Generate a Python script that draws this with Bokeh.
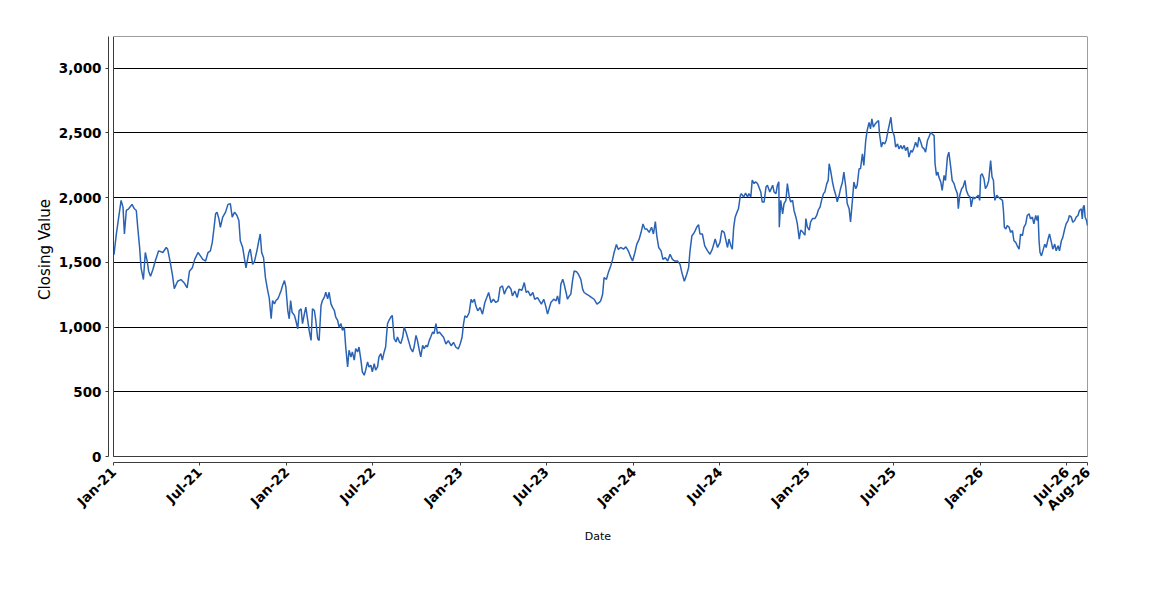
import math
import pandas as pd
from bokeh.plotting import figure
from bokeh.models import (Range1d, FixedTicker, DatetimeTickFormatter,
                          NumeralTickFormatter, BoxAnnotation, ColumnDataSource)
from bokeh.embed import file_html
from bokeh.resources import INLINE

# ---------------- data ----------------
start_date = "2021-01-01"
end_offset_days = 2051  # last plotted day (mid-Aug 2026)

day_offsets = [
    1, 6, 11, 16, 20, 23, 27, 32, 39, 44, 48, 51, 55, 58, 63, 67, 71, 74, 78, 83,
    88, 95, 104, 111, 114, 119, 124, 128, 135, 142, 149, 155, 160, 166, 171, 178, 183, 188, 194, 199,
    204, 208, 211, 215, 218, 222, 225, 230, 236, 241, 246, 250, 255, 260, 264, 267, 272, 276, 279, 285,
    288, 293, 297, 302, 306, 309, 312, 316, 320, 325, 328,
    332, 335, 339, 342, 346, 349, 353, 356, 360, 363, 367, 370, 373, 376, 381, 384, 388, 391, 395, 398,
    402, 405, 409, 412, 416, 419, 423, 426, 430, 433, 437, 440, 444, 447, 451, 454, 458, 461, 465, 468,
    472, 475, 479, 482, 486, 489, 493, 496, 500, 503, 507, 510, 514, 517, 521, 524, 528, 531, 535, 538,
    542, 545, 549, 552, 556, 559, 563, 566, 570, 573, 577, 580, 584, 587, 591, 595, 598, 602, 605, 609,
    612, 616, 619, 623, 626, 630, 633, 637, 640, 644, 647, 651, 654, 658, 661, 665, 668, 672, 675, 679,
    682, 686,
    695, 700, 705, 711, 716, 721, 726, 730, 734, 737, 740, 744, 749, 753, 756, 760, 763, 767, 772, 777,
    782, 786, 790, 795, 800, 805, 810, 814, 819, 823, 827, 832, 837, 840, 845, 850, 854, 860, 865, 869,
    873, 878, 883, 887, 893, 897, 901, 906, 910, 914, 918, 921, 927, 932, 935, 939, 942, 946, 949, 953,
    956, 960, 963, 967, 970, 975, 979, 984, 988, 991, 996, 1002, 1007, 1012, 1018, 1023, 1026, 1030, 1033, 1038,
    1042, 1047, 1051, 1054, 1059, 1063,
    1068, 1074, 1079, 1084, 1089, 1093, 1098, 1102, 1107, 1111, 1115, 1119, 1123, 1128, 1133, 1137, 1141, 1144, 1148, 1153,
    1157, 1162, 1167, 1172, 1177, 1182, 1188, 1193, 1197, 1202, 1207, 1211, 1214, 1218, 1221, 1225, 1228, 1232, 1235, 1240,
    1245, 1251, 1256, 1261, 1267, 1272, 1277, 1281, 1286, 1289, 1293, 1296, 1300, 1303, 1306, 1309, 1313, 1316, 1320, 1322,
    1327, 1331, 1335, 1338, 1342, 1345, 1349, 1352, 1356, 1359, 1363, 1366, 1370, 1374, 1377, 1382, 1388, 1391, 1395, 1398,
    1401, 1402, 1405, 1409, 1412, 1416, 1419, 1423, 1426, 1430, 1433, 1437, 1440, 1444,
    1447, 1451, 1456, 1458, 1461, 1465, 1468, 1472, 1477, 1481, 1484, 1488, 1491, 1495, 1498, 1502, 1505, 1507, 1510, 1514,
    1517, 1521, 1524, 1528, 1531, 1535, 1538, 1542, 1545, 1549, 1552, 1556, 1559, 1563, 1566, 1570, 1573, 1577, 1580, 1584,
    1587, 1591, 1594, 1597, 1600, 1604, 1607, 1611, 1613, 1617, 1620, 1624, 1627, 1631, 1634, 1637, 1640, 1644, 1647, 1651,
    1654, 1658, 1661, 1665, 1668, 1672, 1675, 1679, 1682, 1686, 1689, 1693, 1696, 1700, 1703, 1707, 1710, 1714, 1717, 1721,
    1724, 1728, 1730, 1733, 1736, 1738, 1742, 1745, 1749, 1752, 1756, 1759, 1763, 1766, 1770, 1773, 1777, 1779, 1782, 1786,
    1789, 1793, 1796, 1800, 1804, 1806, 1810, 1813, 1817, 1821, 1824, 1826, 1829, 1833, 1836, 1840, 1843, 1847, 1850, 1853,
    1854, 1856, 1860, 1863, 1867,
    1872, 1874, 1876, 1879, 1882, 1886, 1889, 1893, 1896, 1900, 1903, 1907, 1910, 1914, 1917, 1921, 1924, 1928, 1931, 1935,
    1938, 1942, 1945, 1947, 1949, 1951, 1954, 1957, 1961, 1964, 1968, 1971, 1975, 1978, 1982, 1985, 1989, 1992, 1996, 1999,
    2003, 2006, 2010, 2013, 2017, 2020, 2024, 2027, 2031, 2034, 2038, 2040, 2042, 2044, 2046, 2049, 2051,
]

closing_values = [
    1560, 1719, 1849, 1979, 1927, 1719, 1901, 1914, 1948, 1914, 1901, 1771, 1615, 1458, 1367, 1576, 1510, 1432, 1393, 1445,
    1510, 1589, 1576, 1615, 1602, 1510, 1406, 1297, 1354, 1367, 1341, 1302, 1432, 1458, 1523, 1576, 1550, 1523, 1510, 1576,
    1589, 1654, 1745, 1875, 1888, 1836, 1771, 1849, 1888, 1948, 1953, 1849, 1888, 1862, 1823, 1667, 1615, 1523, 1458, 1576,
    1602, 1484, 1510, 1589, 1667, 1719, 1576, 1536, 1380, 1276, 1224,
    1064, 1205, 1179, 1205, 1218, 1244, 1282, 1321, 1359, 1308, 1128, 1064, 1205, 1115, 1090, 1051, 987, 1128, 1141, 1026,
    1103, 1154, 1051, 974, 897, 1141, 1128, 1051, 910, 897, 1167, 1205, 1231, 1269, 1218, 1269, 1179, 1154, 1128, 1077,
    1051, 1000, 1026, 974, 1000, 846, 692, 821, 769, 808, 744, 833, 808, 846, 744, 654, 628, 667, 731, 692,
    705, 654, 718, 667, 692, 769, 795, 744, 808, 846, 1026, 1051, 1077, 1090, 910, 885, 923, 885, 872, 923,
    1000, 962, 923, 872, 833, 808, 846, 936, 897, 821, 769, 859, 833, 859, 846, 897, 923, 962, 949, 1026,
    949, 962,
    921, 869, 895, 856, 882, 844, 831, 869, 921, 1023, 1087, 1074, 1113, 1215, 1190, 1215, 1164, 1126, 1151, 1100,
    1190, 1228, 1267, 1190, 1215, 1190, 1203, 1305, 1318, 1254, 1292, 1318, 1292, 1241, 1279, 1228, 1292, 1285, 1344, 1267,
    1279, 1241, 1267, 1215, 1228, 1203, 1177, 1215, 1164, 1100, 1151, 1190, 1215, 1203, 1241, 1177, 1331, 1369, 1331, 1267,
    1215, 1241, 1254, 1369, 1433, 1428, 1408, 1369, 1292, 1267, 1254, 1241, 1228, 1215, 1177, 1190, 1203, 1254, 1382, 1369,
    1421, 1472, 1523, 1574, 1638, 1600,
    1615, 1602, 1620, 1589, 1542, 1510, 1576, 1641, 1680, 1732, 1797, 1758, 1758, 1732, 1771, 1719, 1815, 1706, 1615, 1589,
    1523, 1536, 1510, 1563, 1523, 1510, 1510, 1484, 1419, 1354, 1406, 1458, 1589, 1706, 1719, 1745, 1771, 1792, 1719, 1719,
    1628, 1589, 1563, 1602, 1680, 1615, 1654, 1745, 1732, 1680, 1615, 1680, 1628, 1602, 1771, 1849, 1888, 1914, 2018, 2031,
    2005, 2036, 2005, 2031, 2005, 2135, 2109, 2122, 2109, 2083, 2044, 1966, 1966, 2083, 2096, 2044, 2096, 2044, 2031, 2096,
    2122, 1771, 1979, 1875, 1953, 1979, 2109, 2005, 1966, 1979, 1901, 1849, 1797, 1680,
    1749, 1736, 1710, 1838, 1774, 1749, 1813, 1838, 1838, 1864, 1903, 1928, 1979, 2031, 2044, 2108, 2133, 2262, 2210, 2121,
    2069, 2018, 1967, 2018, 2069, 2121, 2197, 2082, 1954, 1915, 1813, 1979, 2121, 2069, 2095, 2223, 2223, 2338, 2249, 2441,
    2518, 2582, 2531, 2608, 2544, 2569, 2582, 2595, 2492, 2390, 2428, 2415, 2441, 2518, 2569, 2621, 2518, 2479, 2390, 2415,
    2377, 2403, 2377, 2403, 2364, 2390, 2313, 2364, 2351, 2390, 2428, 2390, 2467, 2428, 2390, 2377, 2351, 2441, 2467, 2505,
    2492, 2479, 2262, 2172, 2197, 2159, 2121, 2056, 2172, 2133, 2313, 2351, 2236, 2133, 2108, 2069, 2031, 1915, 2018, 2069,
    2082, 2133, 2056, 2018, 2005, 1928, 2005, 1992, 2005, 2018, 1979, 2172, 2185, 2146, 2069, 2095, 2133, 2287, 2159, 2133,
    2056, 1979, 2018, 2005, 1992,
    1979, 1901, 1771, 1758, 1784, 1771, 1732, 1745, 1667, 1654, 1628, 1602, 1719, 1706, 1771, 1797, 1862, 1875, 1836, 1849,
    1797, 1862, 1823, 1862, 1667, 1576, 1550, 1589, 1641, 1615, 1680, 1719, 1654, 1602, 1641, 1589, 1628, 1589, 1667, 1693,
    1758, 1797, 1823, 1862, 1849, 1810, 1823, 1849, 1862, 1901, 1914, 1836, 1927, 1940, 1849, 1823, 1784,
]

x_tick_dates = ["2021-01-01", "2021-07-01", "2022-01-01", "2022-07-01", "2023-01-01",
                "2023-07-01", "2024-01-01", "2024-07-01", "2025-01-01", "2025-07-01",
                "2026-01-01", "2026-07-01", "2026-08-14"]
y_tick_values = [0, 500, 1000, 1500, 2000, 2500, 3000]
y_axis_max = 3245
x_label = "Date"
y_label = "Closing Value"

# ---------------- layout ----------------
W, H = 1142, 592
ML, MR, MT, MB = 108, 55, 36, 130
frame_w = W - ML - MR
frame_h = H - MT - MB
gap_x_px, gap_y_px = 5, 6


def ms(ts):
    return ts.value / 1e6


start = pd.Timestamp(start_date)
end = start + pd.Timedelta(days=end_offset_days)
dates = [start + pd.Timedelta(days=d) for d in day_offsets]

span_ms = ms(end) - ms(start)
pad_x = gap_x_px * span_ms / (frame_w - gap_x_px)
pad_y = gap_y_px * y_axis_max / (frame_h - gap_y_px)

src = ColumnDataSource(dict(date=dates, close=closing_values))

p = figure(width=W, height=H, x_axis_type="datetime", output_backend="svg",
           toolbar_location=None,
           x_range=Range1d(ms(start) - pad_x, ms(end)),
           y_range=Range1d(-pad_y, y_axis_max),
           min_border_left=ML, min_border_right=MR,
           min_border_top=MT, min_border_bottom=MB)
p.outline_line_color = None
p.background_fill_color = "white"
p.border_fill_color = "white"

p.line(x="date", y="close", source=src, line_color="#2b63b4", line_width=1.5)

box = BoxAnnotation(left=ms(start), right=ms(end), bottom=0, top=y_axis_max,
                    fill_color=None, fill_alpha=0, line_color="#3c3c3c",
                    line_width=1, line_alpha=1)
p.add_layout(box)

# grid
p.xgrid.visible = False
p.ygrid.grid_line_color = "black"
p.ygrid.grid_line_width = 1
try:
    p.ygrid.cross_bounds = (ms(start), ms(end))
except Exception:
    pass

# axes
fmt = "%b-%y"
p.xaxis.ticker = FixedTicker(ticks=[ms(pd.Timestamp(d)) for d in x_tick_dates])
p.xaxis.formatter = DatetimeTickFormatter(
    microseconds=fmt, milliseconds=fmt, seconds=fmt, minsec=fmt, minutes=fmt,
    hourmin=fmt, hours=fmt, days=fmt, months=fmt, years=fmt)
p.xaxis.major_label_orientation = math.pi / 4
p.yaxis.ticker = FixedTicker(ticks=y_tick_values)
p.yaxis.formatter = NumeralTickFormatter(format="0,0")
p.xaxis.bounds = (ms(start), ms(end))
p.yaxis.bounds = (0, y_axis_max)

for ax in (p.xaxis[0], p.yaxis[0]):
    ax.axis_line_color = "#3c3c3c"
    ax.major_tick_line_color = "#3c3c3c"
    ax.major_tick_in = 0
    ax.major_tick_out = 3
    ax.minor_tick_line_color = None
    ax.major_label_text_font = "DejaVu Sans"
    ax.major_label_text_font_style = "bold"
    ax.major_label_text_font_size = "13.5px"
    ax.major_label_text_color = "black"
    ax.major_label_standoff = 4
    ax.axis_label_text_font = "DejaVu Sans"
    ax.axis_label_text_font_style = "normal"
    ax.axis_label_text_color = "black"

p.xaxis.axis_label = x_label
p.xaxis.axis_label_text_font_size = "11px"
p.xaxis.axis_label_standoff = 8
p.yaxis.axis_label = y_label
p.yaxis.axis_label_text_font_size = "15px"
p.yaxis.axis_label_standoff = 2

open("out.html", "w").write(file_html(p, INLINE))
